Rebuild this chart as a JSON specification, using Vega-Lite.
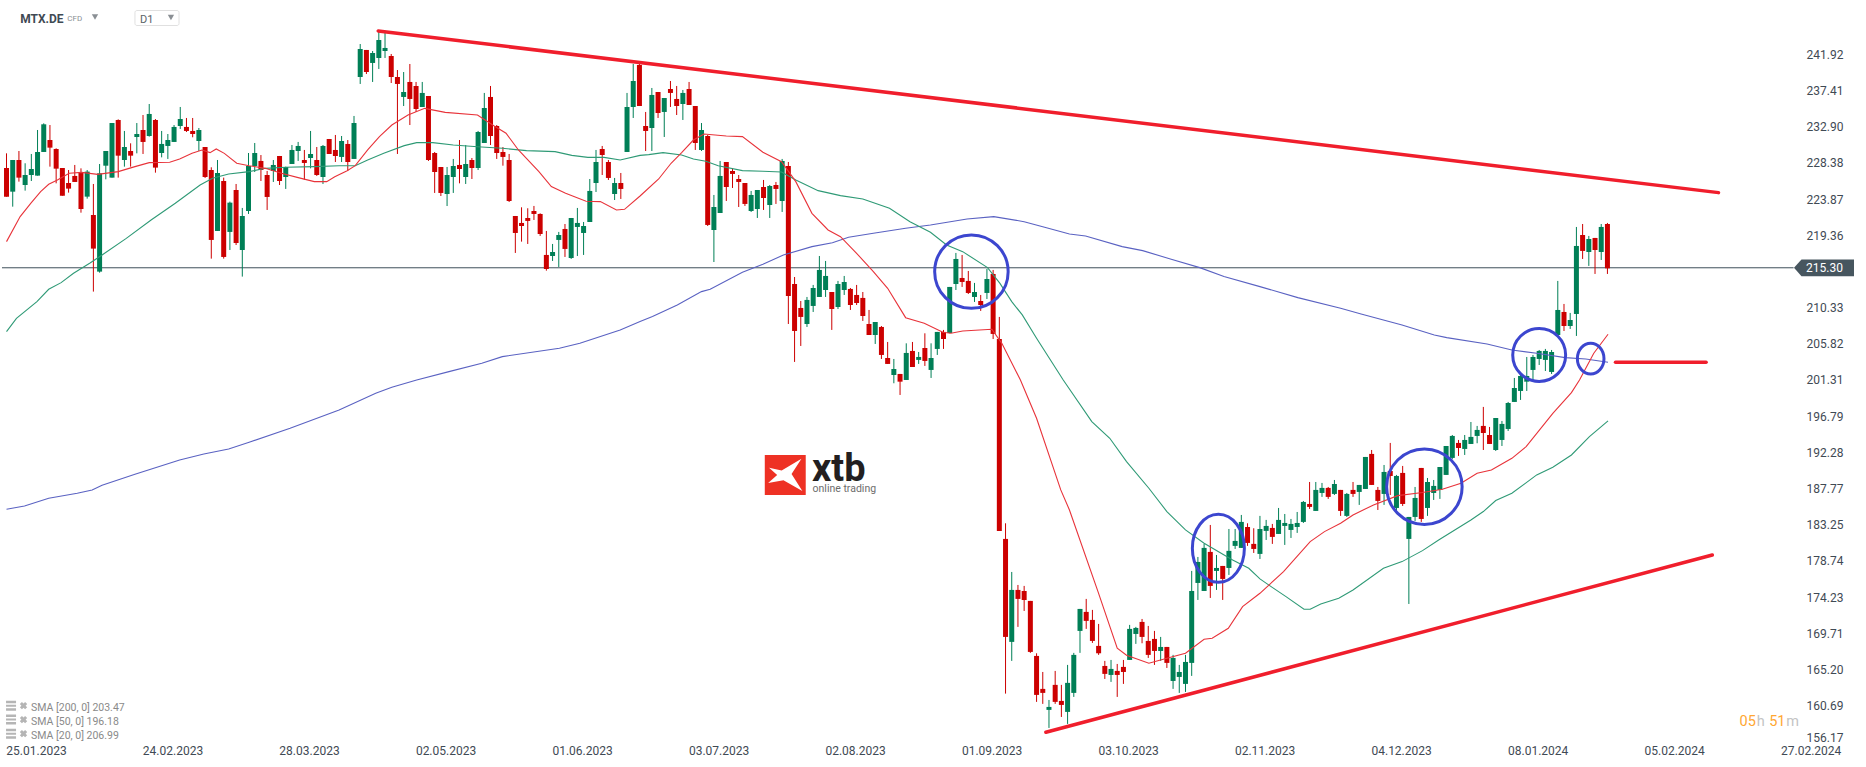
{
"$schema":"https://vega.github.io/schema/vega-lite/v6.json",
"width":1866,"height":767,"padding":0,"autosize":{"type":"none"},"background":"#ffffff",
"config":{"view":{"stroke":null},"font":"Roboto","axis":{"grid":false,"domain":false,"ticks":false,"title":null}},
"datasets":{
"candles":[
{"bar":0,"open":227.74,"high":229.57,"low":224.17,"close":224.17},
{"bar":1,"open":224.79,"high":228.74,"low":222.92,"close":228.74},
{"bar":2,"open":228.74,"high":229.86,"low":226.04,"close":226.54},
{"bar":3,"open":225.62,"high":228.33,"low":224.92,"close":226.87},
{"bar":4,"open":226.87,"high":229.49,"low":226.12,"close":227.62},
{"bar":5,"open":226.79,"high":232.48,"low":226.79,"close":229.74},
{"bar":6,"open":229.74,"high":233.31,"low":229.74,"close":233.19},
{"bar":7,"open":231.23,"high":233.10,"low":227.91,"close":230.28},
{"bar":8,"open":230.11,"high":230.20,"low":225.83,"close":227.66},
{"bar":9,"open":227.74,"high":227.74,"low":224.29,"close":224.29},
{"bar":10,"open":225.87,"high":227.49,"low":224.67,"close":225.17},
{"bar":11,"open":226.75,"high":228.12,"low":226.0,"close":226.0},
{"bar":12,"open":227.20,"high":227.70,"low":222.17,"close":222.63},
{"bar":13,"open":224.17,"high":227.49,"low":223.92,"close":227.29},
{"bar":14,"open":221.88,"high":225.75,"low":212.33,"close":217.69},
{"bar":15,"open":214.82,"high":228.24,"low":214.69,"close":227.08},
{"bar":16,"open":228.03,"high":229.86,"low":226.33,"close":229.86},
{"bar":17,"open":226.54,"high":233.35,"low":226.54,"close":233.35},
{"bar":18,"open":233.73,"high":233.81,"low":226.54,"close":229.28},
{"bar":19,"open":228.74,"high":232.36,"low":227.91,"close":230.36},
{"bar":20,"open":229.86,"high":230.82,"low":227.91,"close":229.28},
{"bar":21,"open":231.61,"high":233.35,"low":229.57,"close":231.98},
{"bar":22,"open":232.48,"high":234.35,"low":229.49,"close":230.99},
{"bar":23,"open":231.73,"high":235.72,"low":231.65,"close":234.48},
{"bar":24,"open":233.73,"high":233.85,"low":227.16,"close":227.79},
{"bar":25,"open":229.61,"high":232.36,"low":229.07,"close":230.74},
{"bar":26,"open":230.49,"high":231.98,"low":228.87,"close":231.23},
{"bar":27,"open":230.99,"high":233.10,"low":230.99,"close":232.86},
{"bar":28,"open":232.98,"high":235.35,"low":232.61,"close":233.85},
{"bar":29,"open":232.86,"high":233.98,"low":232.23,"close":232.36},
{"bar":30,"open":232.36,"high":233.98,"low":231.57,"close":231.98},
{"bar":31,"open":231.11,"high":232.73,"low":229.86,"close":232.48},
{"bar":32,"open":230.36,"high":230.36,"low":226.5,"close":226.62},
{"bar":33,"open":227.49,"high":227.83,"low":216.44,"close":218.77},
{"bar":34,"open":219.89,"high":228.74,"low":219.89,"close":227.12},
{"bar":35,"open":226.12,"high":226.54,"low":216.44,"close":216.65},
{"bar":36,"open":219.77,"high":223.55,"low":217.52,"close":223.42},
{"bar":37,"open":225.0,"high":225.75,"low":218.14,"close":218.39},
{"bar":38,"open":217.52,"high":222.76,"low":214.2,"close":221.76},
{"bar":39,"open":222.38,"high":229.61,"low":222.01,"close":227.99},
{"bar":40,"open":227.99,"high":230.86,"low":227.24,"close":229.61},
{"bar":41,"open":228.62,"high":229.36,"low":226.12,"close":227.49},
{"bar":42,"open":226.87,"high":227.37,"low":222.51,"close":224.13},
{"bar":43,"open":227.37,"high":228.74,"low":226.0,"close":228.12},
{"bar":44,"open":229.24,"high":229.24,"low":225.62,"close":226.12},
{"bar":45,"open":226.62,"high":227.91,"low":225.13,"close":227.87},
{"bar":46,"open":228.24,"high":230.61,"low":228.24,"close":229.99},
{"bar":47,"open":229.86,"high":230.99,"low":228.62,"close":230.49},
{"bar":48,"open":228.74,"high":229.99,"low":226.25,"close":228.37},
{"bar":49,"open":228.99,"high":232.36,"low":227.70,"close":229.49},
{"bar":50,"open":228.74,"high":230.36,"low":226.75,"close":226.87},
{"bar":51,"open":226.62,"high":230.61,"low":225.75,"close":230.49},
{"bar":52,"open":231.36,"high":231.36,"low":229.49,"close":229.49},
{"bar":53,"open":229.99,"high":231.86,"low":228.49,"close":229.24},
{"bar":54,"open":229.12,"high":231.73,"low":228.49,"close":231.11},
{"bar":55,"open":230.74,"high":231.23,"low":227.37,"close":228.49},
{"bar":56,"open":228.87,"high":234.23,"low":228.87,"close":233.35},
{"bar":57,"open":239.09,"high":243.20,"low":238.22,"close":242.58},
{"bar":58,"open":242.46,"high":242.46,"low":239.46,"close":239.71},
{"bar":59,"open":240.84,"high":242.33,"low":238.47,"close":242.08},
{"bar":60,"open":241.46,"high":244.95,"low":240.09,"close":243.70},
{"bar":61,"open":242.33,"high":244.83,"low":241.46,"close":242.71},
{"bar":62,"open":241.71,"high":241.96,"low":238.34,"close":239.09},
{"bar":63,"open":239.09,"high":239.96,"low":229.49,"close":238.22},
{"bar":64,"open":236.60,"high":239.71,"low":235.47,"close":237.22},
{"bar":65,"open":238.47,"high":240.71,"low":233.10,"close":236.35},
{"bar":66,"open":237.97,"high":238.47,"low":234.73,"close":235.10},
{"bar":67,"open":235.35,"high":238.47,"low":235.35,"close":237.10},
{"bar":68,"open":236.72,"high":236.72,"low":228.62,"close":228.74},
{"bar":69,"open":229.61,"high":229.74,"low":224.63,"close":227.24},
{"bar":70,"open":227.87,"high":227.87,"low":224.25,"close":224.63},
{"bar":71,"open":224.50,"high":227.87,"low":223.0,"close":226.87},
{"bar":72,"open":226.62,"high":228.87,"low":224.63,"close":227.99},
{"bar":73,"open":228.12,"high":231.23,"low":225.83,"close":227.62},
{"bar":74,"open":226.62,"high":230.61,"low":225.75,"close":228.24},
{"bar":75,"open":228.74,"high":228.99,"low":226.37,"close":227.74},
{"bar":76,"open":227.74,"high":232.36,"low":227.49,"close":232.23},
{"bar":77,"open":230.86,"high":237.10,"low":230.86,"close":235.22},
{"bar":78,"open":236.60,"high":237.97,"low":230.61,"close":231.73},
{"bar":79,"open":232.98,"high":233.10,"low":228.87,"close":229.61},
{"bar":80,"open":229.74,"high":230.36,"low":228.03,"close":229.12},
{"bar":81,"open":228.74,"high":229.49,"low":223.5,"close":223.63},
{"bar":82,"open":221.76,"high":221.76,"low":217.15,"close":219.64},
{"bar":83,"open":220.89,"high":222.84,"low":218.56,"close":220.51},
{"bar":84,"open":221.51,"high":222.72,"low":218.27,"close":221.14},
{"bar":85,"open":222.38,"high":223.01,"low":221.26,"close":222.01},
{"bar":86,"open":222.01,"high":222.09,"low":219.27,"close":219.51},
{"bar":87,"open":216.90,"high":219.89,"low":214.94,"close":215.15},
{"bar":88,"open":216.77,"high":218.27,"low":216.15,"close":217.27},
{"bar":89,"open":218.77,"high":219.77,"low":215.40,"close":219.39},
{"bar":90,"open":220.14,"high":220.76,"low":216.65,"close":217.65},
{"bar":91,"open":216.52,"high":221.51,"low":216.40,"close":221.51},
{"bar":92,"open":220.39,"high":222.76,"low":216.77,"close":220.89},
{"bar":93,"open":219.64,"high":221.01,"low":216.90,"close":220.51},
{"bar":94,"open":221.01,"high":226.37,"low":221.01,"close":224.88},
{"bar":95,"open":225.87,"high":229.99,"low":224.75,"close":228.49},
{"bar":96,"open":230.11,"high":230.49,"low":226.87,"close":229.36},
{"bar":97,"open":228.49,"high":228.74,"low":226.25,"close":226.50},
{"bar":98,"open":224.50,"high":226.50,"low":223.75,"close":225.87},
{"bar":99,"open":225.87,"high":227.12,"low":223.88,"close":225.13},
{"bar":100,"open":229.74,"high":237.10,"low":229.74,"close":235.35},
{"bar":101,"open":235.35,"high":240.71,"low":233.98,"close":238.59},
{"bar":102,"open":240.59,"high":240.71,"low":235.47,"close":235.47},
{"bar":103,"open":232.98,"high":234.73,"low":229.86,"close":232.36},
{"bar":104,"open":232.73,"high":237.72,"low":229.86,"close":236.85},
{"bar":105,"open":237.22,"high":237.22,"low":233.98,"close":234.60},
{"bar":106,"open":234.73,"high":236.47,"low":231.61,"close":236.47},
{"bar":107,"open":237.59,"high":238.59,"low":235.35,"close":237.10},
{"bar":108,"open":236.35,"high":237.97,"low":234.35,"close":235.47},
{"bar":109,"open":235.72,"high":237.47,"low":233.73,"close":237.10},
{"bar":110,"open":237.59,"high":238.47,"low":235.60,"close":235.60},
{"bar":111,"open":235.47,"high":235.47,"low":229.99,"close":230.86},
{"bar":112,"open":229.99,"high":233.35,"low":229.86,"close":232.48},
{"bar":113,"open":231.73,"high":231.86,"low":220.51,"close":220.64},
{"bar":114,"open":220.01,"high":224.38,"low":216.02,"close":222.88},
{"bar":115,"open":222.13,"high":228.62,"low":222.13,"close":226.75},
{"bar":116,"open":228.49,"high":228.49,"low":223.63,"close":225.37},
{"bar":117,"open":227.37,"high":227.74,"low":225.25,"close":227.0},
{"bar":118,"open":226.37,"high":226.87,"low":222.88,"close":226.0},
{"bar":119,"open":225.87,"high":225.87,"low":223.01,"close":223.26},
{"bar":120,"open":222.38,"high":224.88,"low":222.26,"close":224.38},
{"bar":121,"open":222.63,"high":225.0,"low":221.51,"close":225.0},
{"bar":122,"open":225.37,"high":226.25,"low":222.51,"close":224.0},
{"bar":123,"open":223.13,"high":225.62,"low":221.51,"close":225.50},
{"bar":124,"open":225.62,"high":226.0,"low":223.26,"close":225.13},
{"bar":125,"open":223.63,"high":228.87,"low":222.26,"close":228.62},
{"bar":126,"open":227.99,"high":228.49,"low":208.29,"close":211.79},
{"bar":127,"open":213.28,"high":214.15,"low":203.56,"close":207.42},
{"bar":128,"open":210.29,"high":211.16,"low":205.55,"close":209.17},
{"bar":129,"open":208.29,"high":211.66,"low":207.92,"close":211.29},
{"bar":130,"open":210.54,"high":213.16,"low":209.79,"close":212.78},
{"bar":131,"open":211.66,"high":216.77,"low":211.66,"close":215.03},
{"bar":132,"open":212.53,"high":216.15,"low":211.66,"close":214.28},
{"bar":133,"open":212.28,"high":212.28,"low":207.55,"close":210.16},
{"bar":134,"open":210.41,"high":213.66,"low":210.16,"close":213.28},
{"bar":135,"open":212.53,"high":214.28,"low":211.91,"close":213.53},
{"bar":136,"open":212.66,"high":212.78,"low":210.04,"close":210.66},
{"bar":137,"open":211.91,"high":213.16,"low":210.66,"close":210.91},
{"bar":138,"open":211.54,"high":212.28,"low":208.67,"close":209.29},
{"bar":139,"open":208.29,"high":210.04,"low":206.92,"close":206.92},
{"bar":140,"open":206.92,"high":208.54,"low":205.80,"close":208.54},
{"bar":141,"open":207.92,"high":208.04,"low":203.93,"close":204.43},
{"bar":142,"open":204.05,"high":206.05,"low":203.31,"close":203.31},
{"bar":143,"open":201.93,"high":203.93,"low":200.90,"close":202.68},
{"bar":144,"open":202.06,"high":202.06,"low":199.44,"close":201.10},
{"bar":145,"open":201.31,"high":205.88,"low":201.31,"close":204.68},
{"bar":146,"open":204.93,"high":206.05,"low":202.93,"close":202.93},
{"bar":147,"open":203.81,"high":204.80,"low":203.31,"close":204.18},
{"bar":148,"open":205.30,"high":207.13,"low":203.06,"close":203.68},
{"bar":149,"open":202.56,"high":205.88,"low":201.56,"close":204.05},
{"bar":150,"open":205.18,"high":207.30,"low":204.43,"close":207.30},
{"bar":151,"open":207.30,"high":207.55,"low":205.18,"close":206.42},
{"bar":152,"open":207.17,"high":212.91,"low":207.13,"close":212.91},
{"bar":153,"open":213.28,"high":217.15,"low":212.53,"close":216.40},
{"bar":154,"open":214.03,"high":216.90,"low":212.91,"close":213.53},
{"bar":155,"open":213.66,"high":214.90,"low":212.03,"close":212.16},
{"bar":156,"open":211.66,"high":213.41,"low":211.04,"close":212.28},
{"bar":157,"open":211.16,"high":211.91,"low":209.92,"close":210.66},
{"bar":158,"open":212.16,"high":215.15,"low":211.41,"close":213.90},
{"bar":159,"open":214.53,"high":215.03,"low":206.42,"close":207.05},
{"bar":160,"open":206.42,"high":209.17,"low":182.49,"close":182.49},
{"bar":161,"open":181.49,"high":183.44,"low":162.20,"close":169.27},
{"bar":162,"open":168.65,"high":177.37,"low":166.28,"close":175.13},
{"bar":163,"open":175.13,"high":175.75,"low":170.52,"close":174.01},
{"bar":164,"open":175.0,"high":175.63,"low":172.51,"close":173.88},
{"bar":165,"open":173.76,"high":173.76,"low":167.28,"close":167.40},
{"bar":166,"open":166.90,"high":167.23,"low":161.17,"close":162.04},
{"bar":167,"open":162.79,"high":164.90,"low":160.92,"close":162.29},
{"bar":168,"open":160.17,"high":161.41,"low":157.92,"close":160.54},
{"bar":169,"open":163.29,"high":165.03,"low":160.92,"close":161.17},
{"bar":170,"open":161.29,"high":163.29,"low":159.29,"close":160.79},
{"bar":171,"open":159.92,"high":165.78,"low":158.42,"close":163.54},
{"bar":172,"open":162.29,"high":167.28,"low":161.79,"close":167.03},
{"bar":173,"open":170.02,"high":172.76,"low":167.28,"close":172.76},
{"bar":174,"open":172.39,"high":174.01,"low":170.27,"close":171.27},
{"bar":175,"open":171.39,"high":172.64,"low":168.52,"close":168.77},
{"bar":176,"open":168.15,"high":170.89,"low":167.03,"close":167.23},
{"bar":177,"open":165.65,"high":166.28,"low":164.03,"close":164.66},
{"bar":178,"open":164.53,"high":166.40,"low":163.66,"close":165.28},
{"bar":179,"open":165.03,"high":165.90,"low":161.79,"close":164.53},
{"bar":180,"open":165.53,"high":166.40,"low":163.41,"close":164.90},
{"bar":181,"open":166.40,"high":170.77,"low":166.40,"close":170.27},
{"bar":182,"open":169.64,"high":170.52,"low":168.40,"close":170.39},
{"bar":183,"open":171.14,"high":171.51,"low":168.48,"close":169.27},
{"bar":184,"open":168.77,"high":170.64,"low":166.65,"close":167.03},
{"bar":185,"open":169.02,"high":170.02,"low":165.78,"close":167.52},
{"bar":186,"open":167.52,"high":169.27,"low":166.28,"close":168.02},
{"bar":187,"open":168.02,"high":168.02,"low":165.40,"close":166.03},
{"bar":188,"open":163.78,"high":167.03,"low":162.79,"close":166.65},
{"bar":189,"open":164.28,"high":165.78,"low":162.29,"close":164.90},
{"bar":190,"open":163.41,"high":167.03,"low":162.41,"close":166.15},
{"bar":191,"open":166.03,"high":177.50,"low":164.41,"close":175.0},
{"bar":192,"open":176.0,"high":179.24,"low":173.88,"close":178.62},
{"bar":193,"open":175.0,"high":180.87,"low":175.0,"close":180.37},
{"bar":194,"open":179.87,"high":183.23,"low":174.13,"close":175.63},
{"bar":195,"open":177.50,"high":179.49,"low":175.13,"close":177.87},
{"bar":196,"open":178.12,"high":178.12,"low":173.88,"close":176.50},
{"bar":197,"open":177.87,"high":182.73,"low":177.0,"close":180.0},
{"bar":198,"open":180.62,"high":182.73,"low":180.24,"close":181.24},
{"bar":199,"open":180.37,"high":184.48,"low":180.37,"close":183.61},
{"bar":200,"open":182.98,"high":183.44,"low":180.62,"close":180.99},
{"bar":201,"open":180.87,"high":182.82,"low":179.74,"close":180.24},
{"bar":202,"open":179.62,"high":184.36,"low":178.99,"close":182.73},
{"bar":203,"open":182.49,"high":183.86,"low":181.36,"close":183.11},
{"bar":204,"open":182.86,"high":183.36,"low":180.87,"close":181.74},
{"bar":205,"open":182.11,"high":185.35,"low":182.11,"close":183.86},
{"bar":206,"open":183.11,"high":184.60,"low":180.74,"close":183.48},
{"bar":207,"open":182.61,"high":183.98,"low":181.61,"close":183.36},
{"bar":208,"open":182.98,"high":184.85,"low":182.24,"close":183.48},
{"bar":209,"open":183.61,"high":186.22,"low":183.48,"close":186.10},
{"bar":210,"open":185.85,"high":188.59,"low":185.23,"close":185.48},
{"bar":211,"open":184.98,"high":188.59,"low":184.98,"close":187.60},
{"bar":212,"open":187.22,"high":188.47,"low":186.73,"close":187.85},
{"bar":213,"open":187.85,"high":187.97,"low":186.48,"close":186.73},
{"bar":214,"open":187.10,"high":188.84,"low":186.97,"close":188.34},
{"bar":215,"open":187.60,"high":187.60,"low":184.36,"close":184.98},
{"bar":216,"open":184.36,"high":187.22,"low":184.23,"close":187.10},
{"bar":217,"open":187.60,"high":188.59,"low":186.73,"close":187.10},
{"bar":218,"open":187.35,"high":188.22,"low":185.73,"close":188.22},
{"bar":219,"open":187.72,"high":191.71,"low":187.72,"close":191.71},
{"bar":220,"open":192.09,"high":192.58,"low":188.22,"close":188.22},
{"bar":221,"open":187.60,"high":187.97,"low":185.10,"close":186.23},
{"bar":222,"open":187.10,"high":190.71,"low":185.73,"close":189.84},
{"bar":223,"open":189.96,"high":193.46,"low":186.97,"close":189.34},
{"bar":224,"open":185.35,"high":189.47,"low":184.60,"close":189.34},
{"bar":225,"open":189.72,"high":190.59,"low":185.60,"close":185.85},
{"bar":226,"open":181.49,"high":184.23,"low":173.38,"close":184.23},
{"bar":227,"open":184.23,"high":187.97,"low":183.73,"close":186.60},
{"bar":228,"open":190.34,"high":190.34,"low":183.61,"close":183.98},
{"bar":229,"open":185.35,"high":189.09,"low":184.36,"close":188.59},
{"bar":230,"open":187.22,"high":188.84,"low":186.35,"close":188.10},
{"bar":231,"open":187.60,"high":190.46,"low":186.48,"close":190.46},
{"bar":232,"open":189.47,"high":193.08,"low":189.47,"close":193.08},
{"bar":233,"open":191.59,"high":194.45,"low":191.46,"close":194.33},
{"bar":234,"open":193.46,"high":193.83,"low":191.84,"close":192.83},
{"bar":235,"open":192.71,"high":194.45,"low":191.96,"close":193.83},
{"bar":236,"open":193.33,"high":196.07,"low":193.33,"close":194.21},
{"bar":237,"open":194.33,"high":195.58,"low":193.42,"close":195.08},
{"bar":238,"open":195.58,"high":197.95,"low":192.58,"close":194.70},
{"bar":239,"open":194.45,"high":195.45,"low":193.33,"close":193.33},
{"bar":240,"open":192.58,"high":196.57,"low":192.46,"close":196.57},
{"bar":241,"open":193.83,"high":196.20,"low":193.08,"close":195.83},
{"bar":242,"open":195.20,"high":198.57,"low":194.95,"close":198.44},
{"bar":243,"open":198.57,"high":201.56,"low":198.57,"close":200.31},
{"bar":244,"open":199.94,"high":202.31,"low":198.82,"close":201.81},
{"bar":245,"open":201.10,"high":204.18,"low":199.94,"close":201.81},
{"bar":246,"open":202.56,"high":204.43,"low":201.31,"close":204.18},
{"bar":247,"open":203.93,"high":205.05,"low":203.18,"close":204.93},
{"bar":248,"open":203.81,"high":205.18,"low":202.43,"close":204.93},
{"bar":249,"open":202.31,"high":205.05,"low":202.06,"close":204.80},
{"bar":250,"open":206.92,"high":213.66,"low":206.92,"close":210.04},
{"bar":251,"open":209.79,"high":210.79,"low":207.42,"close":208.04},
{"bar":252,"open":208.04,"high":209.67,"low":207.67,"close":208.79},
{"bar":253,"open":209.54,"high":220.39,"low":206.80,"close":218.02},
{"bar":254,"open":219.39,"high":220.76,"low":216.40,"close":217.40},
{"bar":255,"open":217.27,"high":219.27,"low":215.53,"close":218.89},
{"bar":256,"open":219.02,"high":219.02,"low":214.53,"close":217.52},
{"bar":257,"open":217.27,"high":220.76,"low":216.27,"close":220.39},
{"bar":258,"open":220.76,"high":220.89,"low":214.53,"close":215.23}
],
"sma20":[
{"bar":0,"price":218.56},{"bar":2.2,"price":221.68},{"bar":3.9,"price":223.34},{"bar":5.5,"price":224.79},{"bar":6.8,"price":225.71},{"bar":8.2,"price":226.25},{"bar":10.1,"price":227.08},{"bar":12.1,"price":227.20},{"bar":14.7,"price":226.95},{"bar":18,"price":227.29},{"bar":20.7,"price":227.91},{"bar":23,"price":228.41},{"bar":26.3,"price":228.45},{"bar":27.9,"price":228.87},{"bar":29.9,"price":229.57},{"bar":31.5,"price":229.99},{"bar":32.8,"price":229.66},{"bar":33.8,"price":230.11},{"bar":35.1,"price":229.57},{"bar":37.1,"price":228.33},{"bar":39.1,"price":228.03},{"bar":41.7,"price":227.70},{"bar":44.3,"price":227.08},{"bar":47,"price":226.54},{"bar":49.6,"price":226.04},{"bar":51.6,"price":226.04},{"bar":52.9,"price":226.66},{"bar":54.9,"price":227.41},{"bar":56.2,"price":228.03},{"bar":58.2,"price":229.99},{"bar":60.1,"price":231.65},{"bar":62.1,"price":233.10},{"bar":64.7,"price":234.35},{"bar":67.4,"price":235.18},{"bar":70.7,"price":234.68},{"bar":75.9,"price":234.35},{"bar":78.6,"price":232.98},{"bar":80.5,"price":232.07},{"bar":82.5,"price":229.99},{"bar":85.8,"price":227.29},{"bar":87.8,"price":225.42},{"bar":90.1,"price":224.59},{"bar":93.4,"price":223.59},{"bar":95.7,"price":223.55},{"bar":98.3,"price":222.51},{"bar":99.6,"price":222.59},{"bar":102.1,"price":224.25},{"bar":105.1,"price":226.37},{"bar":107.1,"price":228.33},{"bar":108.8,"price":229.66},{"bar":110.7,"price":231.23},{"bar":112.4,"price":231.98},{"bar":116,"price":231.73},{"bar":118.6,"price":231.65},{"bar":121.9,"price":229.70},{"bar":124.9,"price":228.53},{"bar":127.2,"price":226.04},{"bar":129.8,"price":222.09},{"bar":132.4,"price":220.01},{"bar":134.4,"price":219.18},{"bar":137,"price":217.10},{"bar":139.7,"price":214.82},{"bar":142,"price":212.74},{"bar":144.9,"price":209.08},{"bar":147.9,"price":208.38},{"bar":150.9,"price":207.25},{"bar":152.2,"price":207.13},{"bar":154.1,"price":207.42},{"bar":158.8,"price":207.63},{"bar":160.4,"price":205.88},{"bar":163.4,"price":201.31},{"bar":166,"price":196.53},{"bar":169.9,"price":187.60},{"bar":171.3,"price":185.10},{"bar":175.9,"price":174.92},{"bar":179,"price":167.86},{"bar":180.5,"price":166.99},{"bar":184.1,"price":165.99},{"bar":187,"price":166.61},{"bar":190,"price":167.23},{"bar":193,"price":168.98},{"bar":194.3,"price":169.10},{"bar":196.9,"price":170.35},{"bar":199.2,"price":173.05},{"bar":202,"price":174.71},{"bar":205.8,"price":177.42},{"bar":210.1,"price":181.16},{"bar":212.4,"price":182.40},{"bar":215,"price":183.44},{"bar":217,"price":184.48},{"bar":220.3,"price":185.73},{"bar":224.2,"price":186.89},{"bar":228.2,"price":187.27},{"bar":231.4,"price":187.68},{"bar":234.4,"price":188.43},{"bar":237,"price":189.67},{"bar":239.3,"price":190.09},{"bar":242.6,"price":191.54},{"bar":244.9,"price":193.0},{"bar":249.2,"price":197.15},{"bar":252.2,"price":199.73},{"bar":253.5,"price":201.31},{"bar":255.8,"price":204.64},{"bar":258.1,"price":207.01}
],
"sma50":[
{"bar":0,"price":207.34},{"bar":1.6,"price":209.0},{"bar":4.9,"price":211.08},{"bar":6.8,"price":212.62},{"bar":8.8,"price":213.45},{"bar":10.8,"price":214.61},{"bar":13.4,"price":215.86},{"bar":15.4,"price":216.90},{"bar":19.3,"price":218.97},{"bar":23.3,"price":221.26},{"bar":27.2,"price":223.34},{"bar":31.2,"price":225.62},{"bar":33.2,"price":226.46},{"bar":35.8,"price":227.0},{"bar":39.1,"price":227.29},{"bar":41.7,"price":227.70},{"bar":45,"price":227.83},{"bar":49.6,"price":227.91},{"bar":53.6,"price":228.03},{"bar":56.2,"price":228.03},{"bar":58.2,"price":228.74},{"bar":60.8,"price":229.57},{"bar":64.1,"price":230.53},{"bar":66.1,"price":230.90},{"bar":68.7,"price":230.90},{"bar":72,"price":230.61},{"bar":75.9,"price":230.40},{"bar":79.9,"price":230.20},{"bar":83.8,"price":229.91},{"bar":88.4,"price":229.78},{"bar":91.1,"price":229.32},{"bar":93.7,"price":229.07},{"bar":96.3,"price":229.07},{"bar":98.9,"price":228.74},{"bar":102.1,"price":229.32},{"bar":103.5,"price":229.41},{"bar":105.8,"price":229.66},{"bar":108.8,"price":229.37},{"bar":110.7,"price":228.87},{"bar":112.7,"price":228.58},{"bar":114.7,"price":228.03},{"bar":118.6,"price":227.41},{"bar":121.9,"price":227.33},{"bar":124.9,"price":227.25},{"bar":127.2,"price":226.25},{"bar":130.8,"price":224.92},{"bar":134.4,"price":224.30},{"bar":138,"price":223.88},{"bar":142.3,"price":222.72},{"bar":145.6,"price":221.05},{"bar":148.9,"price":219.72},{"bar":151.5,"price":218.14},{"bar":154.1,"price":217.31},{"bar":158.1,"price":215.32},{"bar":160.1,"price":213.36},{"bar":162,"price":211.08},{"bar":163.7,"price":209.42},{"bar":166,"price":206.51},{"bar":170.3,"price":201.31},{"bar":174.9,"price":196.12},{"bar":177.8,"price":194.04},{"bar":180.5,"price":191.13},{"bar":184.1,"price":187.81},{"bar":187,"price":184.90},{"bar":190,"price":182.61},{"bar":193,"price":180.95},{"bar":197.6,"price":178.87},{"bar":200.2,"price":177.83},{"bar":202,"price":176.50},{"bar":203.8,"price":175.54},{"bar":206.2,"price":174.30},{"bar":209.1,"price":172.72},{"bar":210.1,"price":172.72},{"bar":211.8,"price":173.38},{"bar":214.7,"price":174.09},{"bar":217,"price":175.13},{"bar":221.9,"price":177.83},{"bar":224.9,"price":178.66},{"bar":228.2,"price":180.03},{"bar":230.8,"price":181.36},{"bar":236,"price":183.86},{"bar":238,"price":184.90},{"bar":240,"price":186.27},{"bar":242.6,"price":187.18},{"bar":246.6,"price":189.47},{"bar":249.2,"price":190.42},{"bar":252.2,"price":191.96},{"bar":255.1,"price":194.25},{"bar":258.1,"price":196.20}
],
"sma200":[
{"bar":0,"price":185.19},{"bar":2.9,"price":185.60},{"bar":6.8,"price":186.56},{"bar":11.4,"price":187.18},{"bar":13.8,"price":187.60},{"bar":15.4,"price":188.18},{"bar":20.7,"price":189.55},{"bar":27.9,"price":191.34},{"bar":31.8,"price":192.09},{"bar":35.8,"price":192.71},{"bar":39.1,"price":193.54},{"bar":45.7,"price":195.29},{"bar":53.6,"price":197.57},{"bar":59.5,"price":199.65},{"bar":62.1,"price":200.40},{"bar":66.1,"price":201.31},{"bar":71.3,"price":202.35},{"bar":76.6,"price":203.39},{"bar":79.9,"price":204.22},{"bar":89.1,"price":205.26},{"bar":92.4,"price":205.88},{"bar":98.9,"price":207.55},{"bar":102.1,"price":208.59},{"bar":104.1,"price":209.21},{"bar":108.1,"price":210.66},{"bar":112,"price":212.33},{"bar":113.4,"price":212.62},{"bar":118.6,"price":214.74},{"bar":121.9,"price":215.73},{"bar":125.2,"price":216.90},{"bar":129.8,"price":217.94},{"bar":133.1,"price":218.43},{"bar":135.7,"price":219.10},{"bar":139.7,"price":219.60},{"bar":144.9,"price":220.22},{"bar":148.9,"price":220.64},{"bar":154.8,"price":221.39},{"bar":159.1,"price":221.68},{"bar":164,"price":221.05},{"bar":167.3,"price":220.35},{"bar":171.3,"price":219.51},{"bar":173.9,"price":219.27},{"bar":179.8,"price":217.94},{"bar":183.1,"price":217.44},{"bar":187.7,"price":216.36},{"bar":192.3,"price":215.32},{"bar":196.2,"price":214.20},{"bar":202,"price":212.95},{"bar":208.1,"price":211.58},{"bar":215,"price":210.25},{"bar":218.3,"price":209.54},{"bar":224.9,"price":208.17},{"bar":230.1,"price":206.92},{"bar":232.1,"price":206.59},{"bar":238.6,"price":205.80},{"bar":242.6,"price":205.05},{"bar":246.6,"price":204.64},{"bar":251.2,"price":204.10},{"bar":254.5,"price":203.93},{"bar":258.1,"price":203.51}
],
"trends":[
{"trend":"resistance","bar":59.9,"price":244.83},{"trend":"resistance","bar":275.9,"price":224.67},
{"trend":"support","bar":167.5,"price":157.38},{"trend":"support","bar":274.9,"price":179.49},
{"trend":"level","bar":259.3,"price":203.51},{"trend":"level","bar":273.9,"price":203.51}
],
"legend":[
{"bar":3.95,"price":160.45,"iconprice":160.70,"iconbar":0.73,"xbar":2.74,"label":"SMA [200,  0] 203.47"},
{"bar":3.95,"price":158.71,"iconprice":158.96,"iconbar":0.73,"xbar":2.74,"label":"SMA [50,  0] 196.18"},
{"bar":3.95,"price":156.96,"iconprice":157.21,"iconbar":0.73,"xbar":2.74,"label":"SMA [20,  0] 206.99"}
]
},
"encoding":{
"x":{"field":"bar","type":"quantitative","scale":{"domain":[-1.05,299.67],"nice":false,"zero":false,"padding":0},
"axis":{"orient":"bottom","offset":-24,"labelPadding":2,"labelFontSize":12,"labelColor":"#3f4a54","labelFlush":false,"labelOverlap":false,"labelBound":false,
"values":[4.75,26.75,48.75,70.75,92.75,114.75,136.75,158.75,180.75,202.75,224.75,246.75,268.75,290.75],
"labelExpr":"['25.01.2023','24.02.2023','28.03.2023','02.05.2023','01.06.2023','03.07.2023','02.08.2023','01.09.2023','03.10.2023','02.11.2023','04.12.2023','08.01.2024','05.02.2024','27.02.2024'][round((datum.value-4.75)/22)]"}},
"y":{"field":"price","type":"quantitative","scale":{"domain":[153.05,248.69],"nice":false,"zero":false},
"axis":{"orient":"right","offset":-60,"labelPadding":0,"labelAlign":"left","labelFontSize":12,"labelColor":"#3f4a54","labelOverlap":false,"labelBound":false,
"values":[241.92,237.41,232.90,228.38,223.87,219.36,210.33,205.82,201.31,196.79,192.28,187.77,183.25,178.74,174.23,169.71,165.20,160.69,156.71],
"labelExpr":"datum.value==156.71?'156.17':format(datum.value,'.2f')"}}
},
"layer":[
{"data":{"values":[{"bar":-0.73,"price":215.30},{"bar":288,"price":215.30}]},"mark":{"type":"line","stroke":"#3f4f5a","strokeWidth":1}},
{"data":{"name":"candles"},"mark":{"type":"rule","strokeWidth":1},
"encoding":{"y":{"field":"low","type":"quantitative"},"y2":{"field":"high"},"color":{"condition":{"test":"datum.close>=datum.open","value":"#007f56"},"value":"#cc0000"}}},
{"data":{"name":"candles"},"mark":{"type":"bar","size":5},
"encoding":{"y":{"field":"open","type":"quantitative"},"y2":{"field":"close"},"color":{"condition":{"test":"datum.close>=datum.open","value":"#007f56"},"value":"#cc0000"}}},
{"data":{"name":"sma200"},"mark":{"type":"line","stroke":"#5a62c2","strokeWidth":1.1}},
{"data":{"name":"sma50"},"mark":{"type":"line","stroke":"#2f9a76","strokeWidth":1.1}},
{"data":{"name":"sma20"},"mark":{"type":"line","stroke":"#e8333a","strokeWidth":1.1}},
{"data":{"name":"trends"},"mark":{"type":"line","stroke":"#f01e2c","strokeWidth":3.5,"strokeCap":"round"},"encoding":{"detail":{"field":"trend"}}},
{"data":{"values":[{"bar":155.5,"price":214.82}]},"mark":{"type":"point","shape":"M-1,0A1,1 0 1,1 1,0A1,1 0 1,1 -1,0Z","size":5400,"filled":false,"stroke":"#3c46cf","strokeWidth":3,"opacity":1}},
{"data":{"values":[{"bar":195.3,"price":180.32}]},"mark":{"type":"point","shape":"M-0.765,0A0.765,1 0 1,1 0.765,0A0.765,1 0 1,1 -0.765,0Z","size":4624,"filled":false,"stroke":"#3c46cf","strokeWidth":3,"opacity":1}},
{"data":{"values":[{"bar":228.5,"price":188.01}]},"mark":{"type":"point","shape":"M-1,0A1,1 0 1,1 1,0A1,1 0 1,1 -1,0Z","size":5700,"filled":false,"stroke":"#3c46cf","strokeWidth":3,"opacity":1}},
{"data":{"values":[{"bar":247,"price":204.43}]},"mark":{"type":"point","shape":"M-1,0A1,1 0 1,1 1,0A1,1 0 1,1 -1,0Z","size":2800,"filled":false,"stroke":"#3c46cf","strokeWidth":3,"opacity":1}},
{"data":{"values":[{"bar":255.3,"price":203.97}]},"mark":{"type":"point","shape":"M-0.87,0A0.87,1 0 1,1 0.87,0A0.87,1 0 1,1 -0.87,0Z","size":936,"filled":false,"stroke":"#3c46cf","strokeWidth":3,"opacity":1}},
{"data":{"values":[{"bar":292.9,"price":215.30}]},"mark":{"type":"point","shape":"M-1,0L-0.75,-0.28L1,-0.28L1,0.28L-0.75,0.28Z","size":3600,"filled":true,"fill":"#47565f","stroke":null,"opacity":1}},
{"data":{"values":[{"bar":290.0,"price":215.30,"label":"215.30"}]},"mark":{"type":"text","align":"left","baseline":"middle","fontSize":12,"color":"#ffffff"},"encoding":{"text":{"field":"label"}}},
{"data":{"values":[{"bar":2.2,"price":246.32,"label":"MTX.DE"}]},"mark":{"type":"text","align":"left","baseline":"middle","fontSize":12,"fontWeight":"bold","color":"#3f4a54"},"encoding":{"text":{"field":"label"}}},
{"data":{"values":[{"bar":9.8,"price":246.26,"label":"CFD"}]},"mark":{"type":"text","align":"left","baseline":"middle","fontSize":8,"color":"#8a8f94"},"encoding":{"text":{"field":"label"}}},
{"data":{"values":[{"bar":20.7,"bar2":27.8,"price":247.38,"price2":245.51}]},"mark":{"type":"rect","fill":"#ffffff","stroke":"#e0e0e0","cornerRadius":2},"encoding":{"x2":{"field":"bar2"},"y2":{"field":"price2"}}},
{"data":{"values":[{"bar":21.5,"price":246.2,"label":"D1"}]},"mark":{"type":"text","align":"left","baseline":"middle","fontSize":11,"color":"#5a6268"},"encoding":{"text":{"field":"label"}}},
{"data":{"values":[{"bar":14.26,"price":246.57},{"bar":26.5,"price":246.5}]},"mark":{"type":"point","shape":"triangle-down","size":40,"filled":true,"fill":"#8a8f94","stroke":null,"opacity":1}},
{"data":{"name":"legend"},"mark":{"type":"text","align":"left","baseline":"middle","fontSize":10.5,"color":"#8a8a8a"},"encoding":{"text":{"field":"label"}}},
{"data":{"name":"legend"},"mark":{"type":"point","shape":"M-1,-1H1V-0.5H-1ZM-1,-0.2H1V0.2H-1ZM-1,0.5H1V1H-1Z","size":100,"filled":true,"fill":"#b5b5b5","stroke":null,"opacity":1},"encoding":{"x":{"field":"iconbar","type":"quantitative"},"y":{"field":"iconprice","type":"quantitative"}}},
{"data":{"name":"legend"},"mark":{"type":"point","shape":"cross","angle":45,"size":55,"filled":true,"fill":"#b5b5b5","stroke":null,"opacity":1},"encoding":{"x":{"field":"xbar","type":"quantitative"},"y":{"field":"iconprice","type":"quantitative"}}},
{"data":{"values":[{"bar":279.3,"price":158.67,"label":"05"},{"bar":284.06,"price":158.67,"label":"51"}]},"mark":{"type":"text","align":"left","baseline":"middle","fontSize":14.5,"color":"#ffa733"},"encoding":{"text":{"field":"label"}}},
{"data":{"values":[{"bar":282.05,"price":158.67,"label":"h"},{"bar":286.8,"price":158.67,"label":"m"}]},"mark":{"type":"text","align":"left","baseline":"middle","fontSize":14.5,"color":"#c4c4c4"},"encoding":{"text":{"field":"label"}}},
{"data":{"values":[{"bar":122.2,"bar2":128.8,"price":191.96,"price2":186.97}]},"mark":{"type":"rect","fill":"#ee3124"},"encoding":{"x2":{"field":"bar2"},"y2":{"field":"price2"}}},
{"data":{"values":[{"bar":125.5,"price":189.47}]},"mark":{"type":"point","shape":"M-0.9,-0.4L-0.2,-0.25L0.9,-0.9L0.35,-0.05L0.95,0.9L-0.1,0.3L-0.95,0.45L-0.45,0Z","size":1296,"filled":true,"fill":"#ffffff","stroke":null,"opacity":1}},
{"data":{"values":[{"bar":129.8,"price":188.72,"label":"xtb"}]},"mark":{"type":"text","align":"left","baseline":"alphabetic","fontSize":38,"fontWeight":"bold","color":"#231f20"},"encoding":{"text":{"field":"label"}}},
{"data":{"values":[{"bar":129.9,"price":187.69,"label":"online trading"}]},"mark":{"type":"text","align":"left","baseline":"middle","fontSize":10.5,"color":"#6d6d6d"},"encoding":{"text":{"field":"label"}}}
]
}
